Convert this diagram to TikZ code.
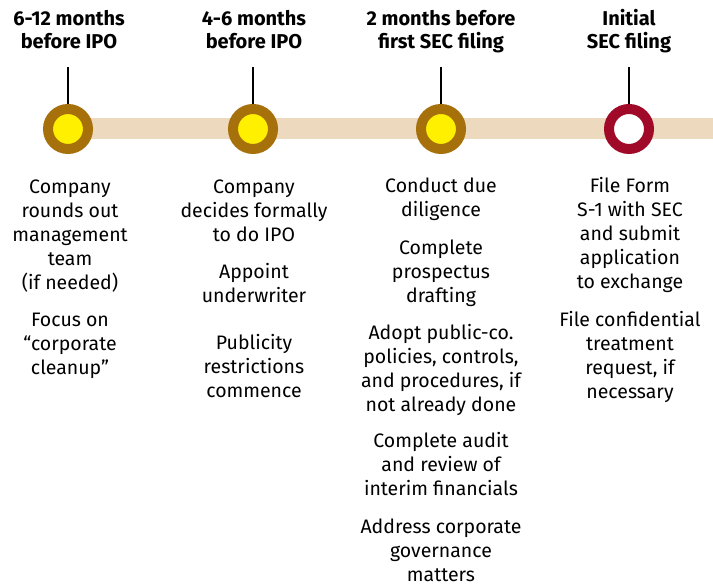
\documentclass[tikz,border=0pt]{standalone}
\usepackage{fontspec}
\setmainfont{Fira Sans}
\definecolor{bandtan}{RGB}{236,217,190}
\definecolor{ringbrown}{RGB}{166,112,10}
\definecolor{dotyellow}{RGB}{255,240,0}
\definecolor{ringred}{RGB}{160,10,40}
\tikzset{
  heading/.style={font=\bfseries\fontsize{20}{23}\selectfont, align=center, anchor=base, inner sep=0pt},
  body/.style={font=\fontsize{19.5}{24}\selectfont, align=center, anchor=base, inner sep=0pt},
  milestone/.style={circle, inner sep=0pt, minimum size=40pt, line width=10pt},
  paststep/.style={milestone, draw=ringbrown, fill=dotyellow},
  filingstep/.style={milestone, draw=ringred, fill=white},
  tick/.style={line width=2pt, black},
  band/.style={line width=21pt, bandtan}
}
\begin{document}
\begin{tikzpicture}[x=1pt, y=-1pt]
\useasboundingbox (0,0) rectangle (713,585);

% timeline band
\coordinate (bandstart) at (68,128.5);
\coordinate (bandend) at (713,128.5);
\draw[band] (bandstart) -- (bandend);

% milestones
\node[paststep]   (m1) at (68,129)  {};
\node[paststep]   (m2) at (253,129) {};
\node[paststep]   (m3) at (441,129) {};
\node[filingstep] (m4) at (629,129) {};

% ticks from headings down to milestones
\coordinate (t1) at (68,67);
\coordinate (t2) at (253,67);
\coordinate (t3) at (441,67);
\coordinate (t4) at (629,67);
\draw[tick] (t1) -- (m1.north);
\draw[tick] (t2) -- (m2.north);
\draw[tick] (t3) -- (m3.north);
\draw[tick] (t4) -- (m4.north);

% headings (anchored at the baseline of their last line)
\node[heading] (h1) at (69,49)  {6-12 months\\before IPO};
\node[heading] (h2) at (254,49) {4-6 months\\before IPO};
\node[heading] (h3) at (441,49) {2 months before\\first SEC filing};
\node[heading] (h4) at (629,49) {Initial\\SEC filing};

% column 1
\node[body] (a1) at (70,290) {Company\\rounds out\\management\\team\\(if needed)};
\node[body] (a2) at (70,375) {Focus on\\“corporate\\cleanup”};

% column 2
\node[body] (b1) at (254,242) {Company\\decides formally\\to do IPO};
\node[body] (b2) at (254,303) {Appoint\\underwriter};
\node[body] (b3) at (254,398) {Publicity\\restrictions\\commence};

% column 3
\node[body] (c1) at (441,217) {Conduct due\\diligence};
\node[body] (c2) at (441,303) {Complete\\prospectus\\drafting};
\node[body] (c3) at (441,412) {Adopt public-co.\\policies, controls,\\and procedures, if\\not already done};
\node[body] (c4) at (441,496) {Complete audit\\and review of\\interim financials};
\node[body] (c5) at (441,581) {Address corporate\\governance\\matters};

% column 4
\node[body] (d1) at (630,289) {File Form\\S-1 with SEC\\and submit\\application\\to exchange};
\node[body] (d2) at (630,399) {File confidential\\treatment\\request, if\\necessary};
\end{tikzpicture}
\end{document}
